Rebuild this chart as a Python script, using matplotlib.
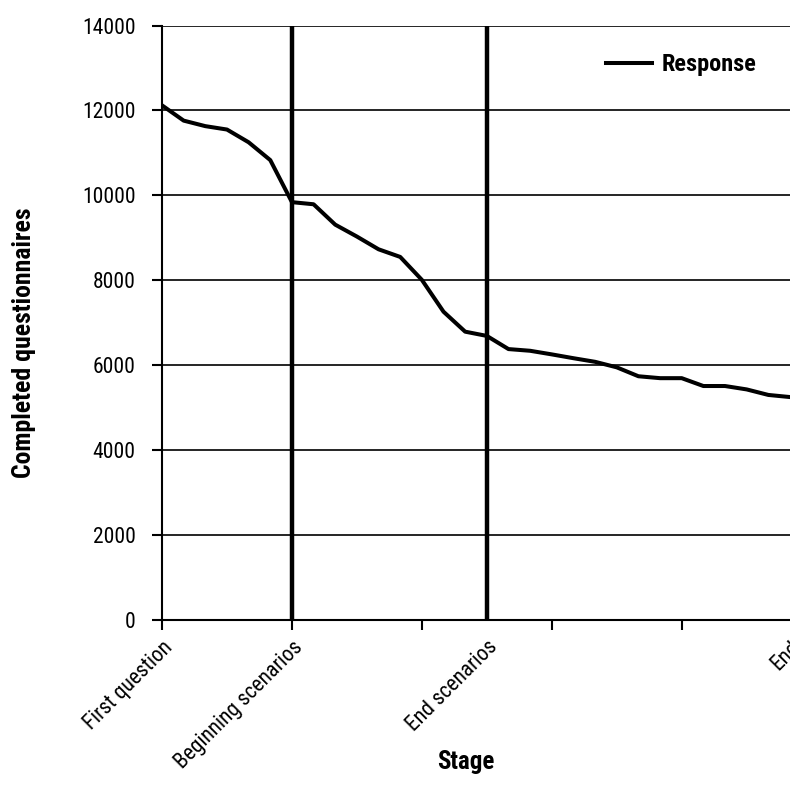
import matplotlib
matplotlib.use("Agg")
import matplotlib.pyplot as plt

# stage labels, blank where the chart shows nothing
stages = [""] * 30
stages[0] = "First question"
stages[6] = "Beginning scenarios"
stages[15] = "End scenarios"
stages[29] = "End"

response = [12120, 11760, 11630, 11550, 11250, 10830, 9840, 9790, 9310, 9030,
            8730, 8550, 8010, 7260, 6790, 6690, 6380, 6340, 6255, 6165,
            6080, 5950, 5740, 5695, 5695, 5510, 5510, 5430, 5300, 5250]

markers = [6, 15]  # vertical lines: beginning / end of scenarios

plt.rcParams["font.family"] = ["Roboto Condensed", "PT Sans Narrow", "DejaVu Sans"]

fig = plt.figure(figsize=(7.9, 8), dpi=100)
ax = fig.add_axes([162 / 790, 1 - 620 / 800, 1 - 162 / 790, 594.5 / 800])

x = list(range(len(response)))
ax.plot(x, response, color="black", lw=2.9, label="Response", zorder=3)

for m in markers:
    ax.axvline(m, color="black", lw=3.2, zorder=2)

ax.set_ylim(0, 14000)
ax.set_xlim(0, 28.81)
ax.set_yticks(range(0, 14001, 2000))
ax.grid(axis="y", color="black", lw=1.2)
ax.set_axisbelow(True)

# tick marks every 6 stages, labels on the named stages only
ax.xaxis.remove_overlapping_locs = False
ax.set_xticks(range(0, 30, 6))
ax.set_xticklabels([])
lab_pos = [i for i, s in enumerate(stages) if s]
ax.set_xticks(lab_pos, minor=True)
ax.set_xticklabels([stages[i] for i in lab_pos], minor=True, rotation=45,
                   ha="right", va="top", rotation_mode="anchor", fontsize=15.5)
ax.tick_params(axis="x", which="minor", length=0, pad=12)
ax.tick_params(axis="x", which="major", length=7, width=1.5, direction="out")
ax.tick_params(axis="y", length=7, width=1.5, labelsize=15.5, pad=12)

for side in ["top", "right"]:
    ax.spines[side].set_visible(False)
ax.spines["left"].set_linewidth(1.5)
ax.spines["bottom"].set_linewidth(1.5)

fig.text(466 / 790, 1 - 762 / 800, "Stage", ha="center", va="center",
         fontsize=18, fontweight="bold")
fig.text(24 / 790, 1 - 343 / 800, "Completed questionnaires", ha="center",
         va="center", rotation=90, fontsize=18.5, fontweight="bold")

ax.legend(loc="upper right", bbox_to_anchor=(0.982, 0.99),
          frameon=False, handlelength=1.9, handletextpad=0.4,
          prop={"size": 17.5, "weight": "bold"})

fig.savefig("out.png", dpi=100)
